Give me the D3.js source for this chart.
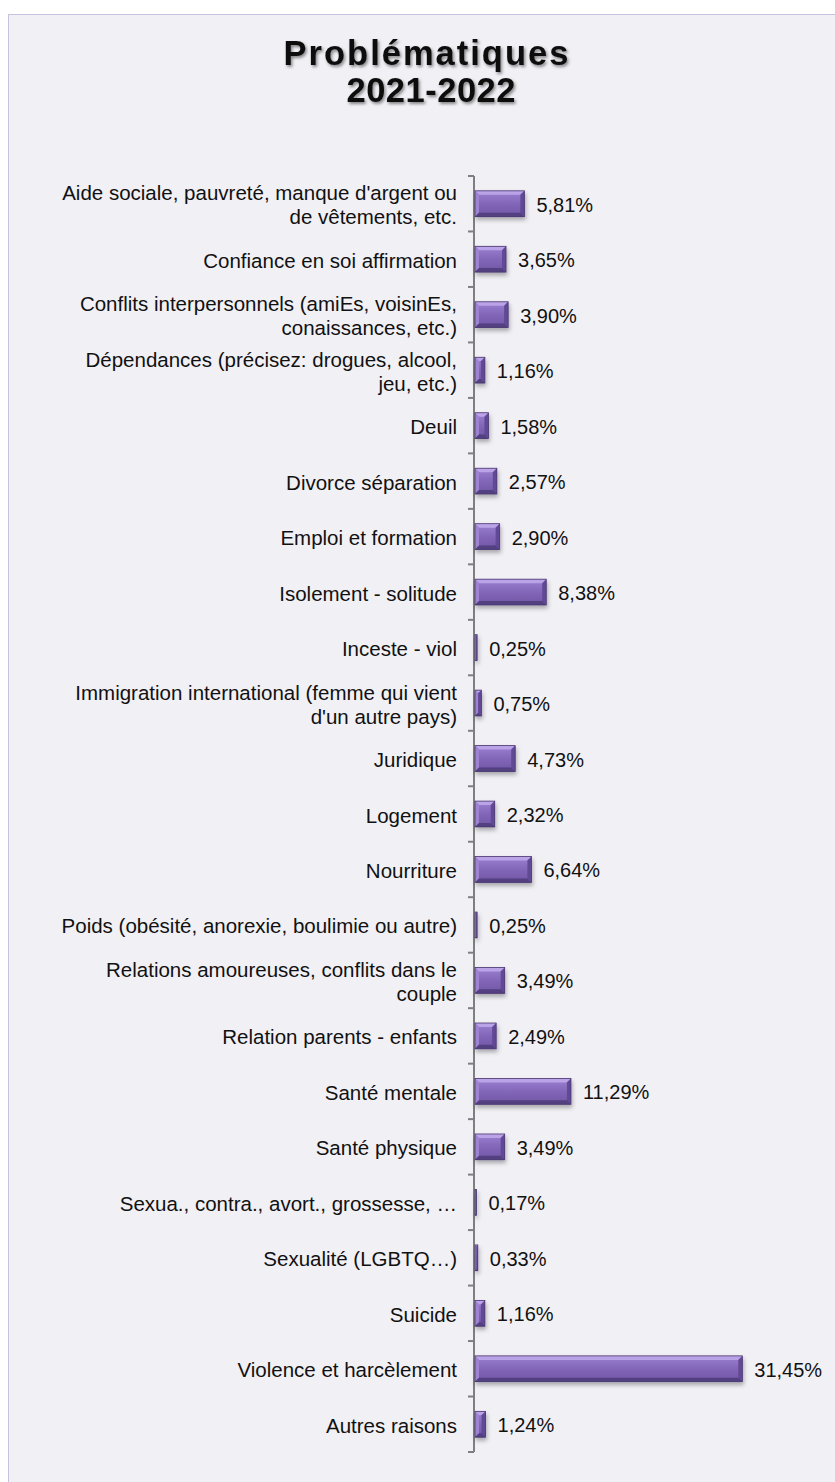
<!DOCTYPE html>
<html>
<head>
<meta charset="utf-8">
<script src="https://cdn.jsdelivr.net/npm/d3@7"></script>
<style>
html,body{margin:0;padding:0;background:#ffffff;}
svg{display:block;}
text{font-family:"Liberation Sans",Arial,sans-serif;}
</style>
</head>
<body>
<svg id="chart" width="835" height="1482"></svg>
<script>
const titleLines = ["Problématiques", "2021-2022"];
const categories = [
  "Aide sociale, pauvreté, manque d'argent ou de vêtements, etc.",
  "Confiance en soi affirmation",
  "Conflits interpersonnels (amiEs, voisinEs, conaissances, etc.)",
  "Dépendances (précisez: drogues, alcool, jeu, etc.)",
  "Deuil",
  "Divorce séparation",
  "Emploi et formation",
  "Isolement - solitude",
  "Inceste - viol",
  "Immigration international (femme qui vient d'un autre pays)",
  "Juridique",
  "Logement",
  "Nourriture",
  "Poids (obésité, anorexie, boulimie ou autre)",
  "Relations amoureuses, conflits dans le couple",
  "Relation parents - enfants",
  "Santé mentale",
  "Santé physique",
  "Sexua., contra., avort., grossesse, …",
  "Sexualité (LGBTQ…)",
  "Suicide",
  "Violence et harcèlement",
  "Autres raisons"
];
const values = [5.81, 3.65, 3.90, 1.16, 1.58, 2.57, 2.90, 8.38, 0.25, 0.75, 4.73, 2.32, 6.64, 0.25, 3.49, 2.49, 11.29, 3.49, 0.17, 0.33, 1.16, 31.45, 1.24];

const data = categories.map((c, i) => ({cat: c, val: values[i]}));
const fmt = v => v.toFixed(2).replace(".", ",") + "%";

const svg = d3.select("#chart");
const defs = svg.append("defs");

const tsh = defs.append("filter").attr("id", "tshadow").attr("x", "-10%").attr("y", "-30%").attr("width", "120%").attr("height", "160%");
tsh.append("feDropShadow").attr("dx", 1.5).attr("dy", 2).attr("stdDeviation", 1.4).attr("flood-color", "#000").attr("flood-opacity", 0.45);

const bsh = defs.append("filter").attr("id", "bshadow").attr("x", "-10%").attr("y", "-30%").attr("width", "130%").attr("height", "180%");
bsh.append("feDropShadow").attr("dx", 1).attr("dy", 3).attr("stdDeviation", 2).attr("flood-color", "#000").attr("flood-opacity", 0.3);

const grad = defs.append("linearGradient").attr("id", "face").attr("x1", 0).attr("y1", 0).attr("x2", 0).attr("y2", 1);
grad.append("stop").attr("offset", "0%").attr("stop-color", "#9c80d2");
grad.append("stop").attr("offset", "50%").attr("stop-color", "#8266b8");
grad.append("stop").attr("offset", "100%").attr("stop-color", "#7155a5");

// panel
svg.append("rect").attr("x", 8.5).attr("y", 14.5).attr("width", 840).attr("height", 1480)
  .attr("fill", "#f1f0f5").attr("stroke", "#c7c3de").attr("stroke-width", 1);

// title
const titleStyle = [{x: 426, y: 65, ls: 2}, {x: 431, y: 102, ls: 0.5}];
svg.append("g").attr("filter", "url(#tshadow)")
  .selectAll("text").data(titleLines).join("text")
  .attr("x", (d, i) => titleStyle[i].x + titleStyle[i].ls / 2)
  .attr("y", (d, i) => titleStyle[i].y)
  .attr("text-anchor", "middle")
  .attr("font-size", 34.5).attr("font-weight", "bold")
  .attr("letter-spacing", (d, i) => titleStyle[i].ls + "px")
  .attr("fill", "#111")
  .text(d => d);

const x = d3.scaleLinear().domain([0, 35]).range([475, 772.5]);
const y = d3.scaleBand().domain(categories).range([176, 1452]).padding(0);
const barH = y.bandwidth() * 0.465;

// axis
const axis = svg.append("g").attr("stroke", "#7f7f7f").attr("stroke-width", 2);
axis.append("line").attr("x1", 474).attr("x2", 474).attr("y1", y.range()[0]).attr("y2", y.range()[1]);
const tickYs = categories.map(c => y(c)).concat([y.range()[1]]);
axis.selectAll("line.tick").data(tickYs).join("line").attr("class", "tick")
  .attr("x1", 468).attr("x2", 474).attr("y1", d => d).attr("y2", d => d);

// bars
const bars = svg.append("g").attr("filter", "url(#bshadow)");
data.forEach(d => {
  const x0 = x(0), x1 = x(d.val);
  const cy = y(d.cat) + y.bandwidth() / 2;
  const y0 = cy - barH / 2, y1 = cy + barH / 2;
  const w = x1 - x0;
  const b = Math.min(4, w / 2);
  const g = bars.append("g");
  g.append("rect").attr("x", x0).attr("y", y0).attr("width", w).attr("height", barH).attr("fill", "url(#face)");
  const poly = pts => g.append("path").attr("d", "M" + pts.map(p => p.join(",")).join("L") + "Z");
  poly([[x0, y0], [x1, y0], [x1 - b, y0 + b], [x0 + b, y0 + b]]).attr("fill", "#bba3e8");
  poly([[x0, y0], [x0 + b, y0 + b], [x0 + b, y1 - b], [x0, y1]]).attr("fill", "#9e82d4");
  poly([[x1, y0], [x1, y1], [x1 - b, y1 - b], [x1 - b, y0 + b]]).attr("fill", "#614895");
  poly([[x0, y1], [x1, y1], [x1 - b, y1 - b], [x0 + b, y1 - b]]).attr("fill", "#533f80");
  g.append("rect").attr("x", x0).attr("y", y0).attr("width", w).attr("height", barH)
    .attr("fill", "none").attr("stroke", "#4a3870").attr("stroke-width", 0.8);
});

// value labels
svg.append("g").selectAll("text").data(data).join("text")
  .attr("x", d => x(d.val) + 12)
  .attr("y", d => y(d.cat) + y.bandwidth() / 2 + 8)
  .attr("font-size", 20).attr("fill", "#111")
  .text(d => fmt(d.val));

// category labels with wrapping
const labG = svg.append("g");
const maxW = 401;
const fs = 20.5;
data.forEach(d => {
  const t = labG.append("text").attr("font-size", fs).attr("fill", "#111").attr("text-anchor", "end");
  const words = d.cat.split(" ");
  const lines = [];
  let line = [];
  const probe = labG.append("text").attr("font-size", fs);
  words.forEach(wd => {
    const test = line.concat([wd]).join(" ");
    probe.text(test);
    if (probe.node().getComputedTextLength() > maxW && line.length) {
      lines.push(line.join(" "));
      line = [wd];
    } else line.push(wd);
  });
  lines.push(line.join(" "));
  probe.remove();
  const lh = 24;
  const cy = y(d.cat) + y.bandwidth() / 2;
  const firstBase = cy + 8.5 - (lines.length - 1) * lh / 2;
  lines.forEach((ln, i) => {
    t.append("tspan").attr("x", 457).attr("y", firstBase + i * lh).text(ln);
  });
});
</script>
</body>
</html>
